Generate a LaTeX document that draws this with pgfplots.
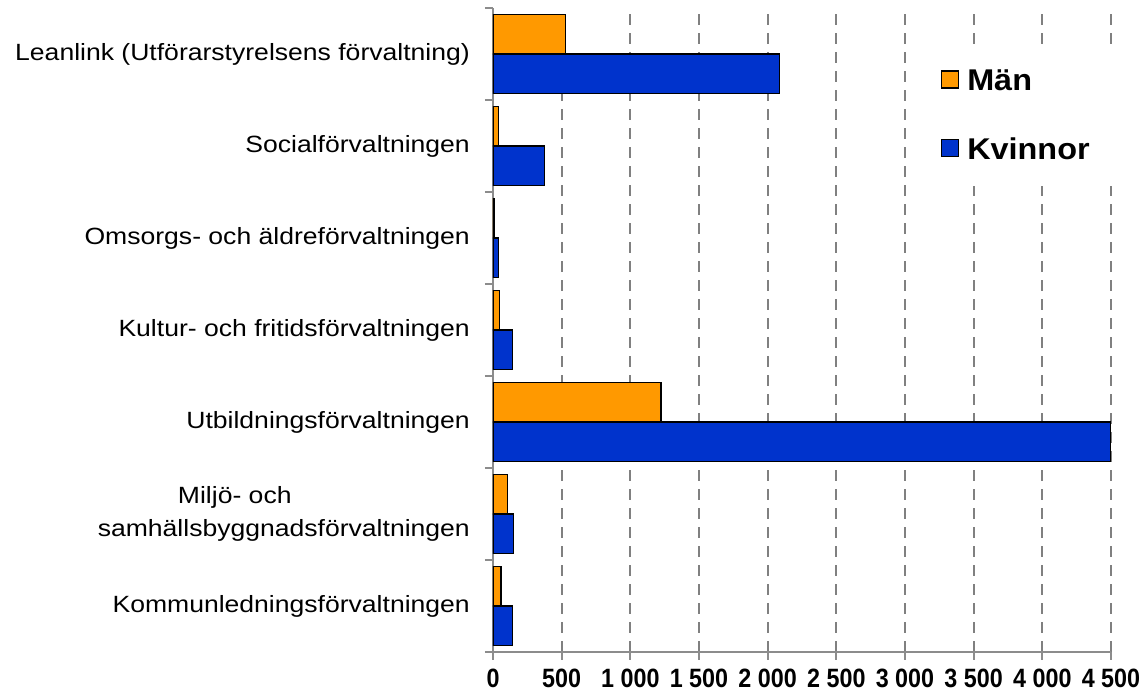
\documentclass[border=0pt]{standalone}
\usepackage{fontspec}
\setmainfont{Liberation Sans}
\newfontfamily\labfont[FakeStretch=1.13]{Liberation Sans}
\newfontfamily\tickfont[FakeStretch=0.88]{Liberation Sans}
\newfontfamily\legfont[FakeStretch=1.08]{Liberation Sans}
\usepackage{pgfplots}
\pgfplotsset{compat=1.18}
\definecolor{manorange}{RGB}{255,153,0}
\definecolor{kvblue}{RGB}{0,51,204}
\definecolor{axisgray}{RGB}{140,140,140}
\definecolor{gridgray}{RGB}{128,128,128}
\begin{document}
\begin{tikzpicture}
\path[use as bounding box] (0,0) rectangle (1144pt,692pt);
\begin{axis}[
  at={(493pt,40pt)}, anchor=south west,
  scale only axis, width=618pt, height=644pt,
  xmin=0, xmax=4500, ymin=-0.5, ymax=6.5,
  xbar, bar width=0.43,
  axis lines*=left,
  axis line style={draw=axisgray, line width=2pt},
  xtick={0,500,...,4500},
  xticklabels={0,500,1 000,1 500,2 000,2 500,3 000,3 500,4 000,4 500},
  tick align=outside,
  major tick length=8pt,
  tick style={draw=axisgray, line width=2pt},
  xmajorgrids,
  major x grid style={draw=gridgray, line width=2pt, dash pattern=on 11pt off 8pt},
  ytick={-0.5,0.5,...,6.5},
  yticklabels={},
  extra y ticks={0,1,2,3,4,5,6},
  extra y tick labels={Kommunledningsförvaltningen,{Miljö- och\hspace*{98pt}\\samhällsbyggnadsförvaltningen},Utbildningsförvaltningen,Kultur- och fritidsförvaltningen,Omsorgs- och äldreförvaltningen,Socialförvaltningen,Leanlink (Utförarstyrelsens förvaltning)},
  extra y tick style={major tick length=0pt},
  yticklabel style={font=\labfont\fontsize{23.5pt}{33pt}\selectfont, align=center, anchor=east, inner sep=0pt, xshift=-23pt},
  xticklabel style={font=\tickfont\bfseries\fontsize{26.5pt}{30pt}\selectfont, inner sep=0pt, anchor=north, yshift=-9pt},
  legend cell align=left,
  legend image code/.code={\draw[#1] (0pt,-7pt) rectangle (17pt,10pt);},
  legend style={at={(0.681,0.943)}, anchor=north west, draw=none, fill=white,
    font=\legfont\bfseries\fontsize{30pt}{33pt}\selectfont,
    inner xsep=27pt, inner ysep=25pt, row sep=46pt, column sep=8pt,
    nodes={inner sep=0pt}},
]
\addplot[fill=manorange, draw=black, line width=1.2pt, bar shift=0.215]
  coordinates {(527,6) (39,5) (12,4) (49,3) (1224,2) (104,1) (58,0)};
\addlegendentry{Män}
\addplot[fill=kvblue, draw=black, line width=1.2pt, bar shift=-0.215]
  coordinates {(2088,6) (376,5) (41,4) (143,3) (4500,2) (150,1) (143,0)};
\addlegendentry{Kvinnor}
\end{axis}
\end{tikzpicture}
\end{document}
